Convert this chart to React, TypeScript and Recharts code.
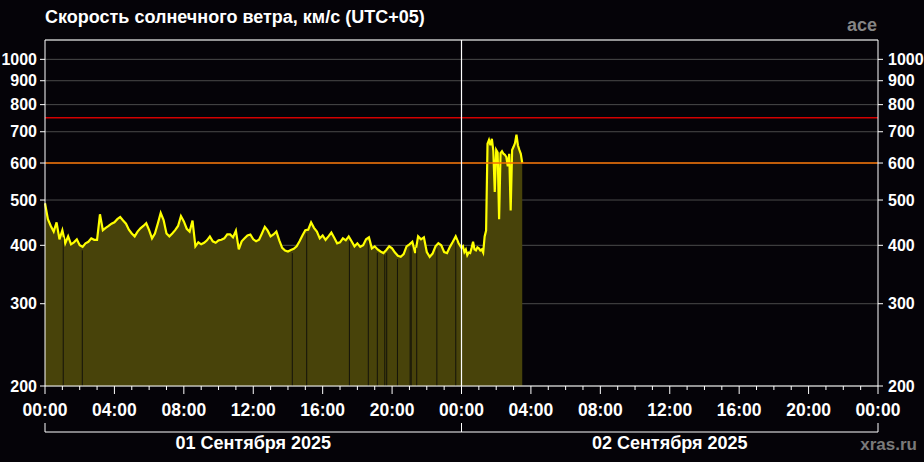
import React from 'react';
import {
  ComposedChart,
  Area,
  XAxis,
  YAxis,
  CartesianGrid,
  ReferenceLine,
} from 'recharts';

// скорость, км/с, шаг 10 минут, 01.09.2025 00:00 - 23:50
const day1Speed = [
  492, 455, 440, 428, 448, 412,
  431, 404, 418, 402, 406, 412,
  400, 397, 404, 407, 414, 411,
  411, 466, 431, 436, 440, 445,
  448, 455, 460, 452, 445, 432,
  424, 418, 428, 435, 440, 446,
  431, 414, 424, 445, 469, 453,
  424, 418, 424, 431, 440, 462,
  450, 434, 428, 452, 398, 406,
  402, 405, 410, 418, 408, 405,
  410, 411, 414, 422, 422, 416,
  430, 392, 408, 414, 420, 422,
  412, 408, 411, 424, 438, 430,
  418, 422, 428, 410, 395, 390,
  388, 391, 393, 398, 408, 420,
  431, 432, 448, 436, 428, 414,
  420, 411, 418, 426, 415, 404,
  406, 414, 410, 418, 408, 398,
  404, 397, 400, 412, 416, 394,
  398, 392, 388, 385, 391, 398,
  394, 386, 380, 378, 383, 398,
  402, 407, 385, 418, 412, 416,
  387, 378, 384, 398, 404, 400,
  387, 385, 397, 407, 418, 404,
];

// шаг 5 минут, 02.09.2025 00:00 - 03:30
const day2Speed = [
  395, 398, 387, 392, 381, 386, 385, 395, 407, 392, 390, 396,
  394, 390, 392, 386, 418, 430, 660, 672, 655, 676, 638, 520,
  640, 632, 455, 630, 636, 628, 625, 618, 590, 628, 475, 640,
  650, 662, 690, 655, 640, 628, 600,
];

// пропуски данных, часы от 01.09 00:00
const gapHours = [
  1.05, 2.15, 14.25, 15.08, 17.54, 18.63, 19.15, 19.58, 19.69, 20.31,
  21.04, 21.1, 21.42, 22.58, 23.67,
];

const yTicks = [200, 300, 400, 500, 600, 700, 800, 900, 1000];
const hourTicks = Array.from({ length: 49 }, (_, i) => i);
const dayTicks = [0, 12, 24, 36, 48];
const dayLabels: Record<number, string> = {
  12: '01 Сентября 2025',
  36: '02 Сентября 2025',
};
const warnLevel = 600;
const alertLevel = 750;

const data = [
  ...day1Speed.map((v, i) => ({ t: i / 6, v })),
  ...day2Speed.map((v, i) => ({ t: 24 + i / 12, v })),
];

function valueAt(t: number) {
  for (let i = 1; i < data.length; i++) {
    if (data[i].t >= t) {
      const a = data[i - 1];
      const b = data[i];
      return a.v + ((b.v - a.v) * (t - a.t)) / (b.t - a.t);
    }
  }
  return data[data.length - 1].v;
}

const FONT = '"Liberation Sans", Arial, sans-serif';
const BG = '#050308';
const HOURS = 0;
const DAYS = 1;

function HourTick(props: any) {
  const { x, y, payload } = props;
  const h = payload.value as number;
  const major = h % 4 === 0;
  const hh = String(h % 24).padStart(2, '0');
  return (
    <g>
      <line x1={x} x2={x} y1={y} y2={y + (major ? 8 : 4)} stroke="#fff" strokeWidth={1} />
      {major && (
        <text
          x={x}
          y={y + 30}
          textAnchor="middle"
          fill="#fff"
          fontSize={17.5}
          fontWeight="bold"
          fontFamily={FONT}
        >
          {hh}:00
        </text>
      )}
    </g>
  );
}

function DayTick(props: any) {
  const { x, y, payload } = props;
  const label = dayLabels[payload.value];
  if (label) {
    return (
      <text
        x={x}
        y={y + 17}
        textAnchor="middle"
        fill="#fff"
        fontSize={18}
        fontWeight="bold"
        fontFamily={FONT}
      >
        {label}
      </text>
    );
  }
  return <line x1={x} x2={x} y1={y - 9} y2={y} stroke="#fff" strokeWidth={1} />;
}

const yTickStyle = { fill: '#fff', fontSize: 16, fontWeight: 'bold', fontFamily: FONT };

export default function App() {
  return (
    <div
      style={{
        position: 'absolute',
        left: 0,
        top: 0,
        width: 924,
        height: 462,
        background: BG,
      }}
    >
      <ComposedChart
        width={924}
        height={462}
        data={data}
        margin={{ top: 40, right: 0, bottom: 0, left: 0 }}
      >
        <CartesianGrid stroke="#4b4b4b" vertical={false} yAxisId="left" xAxisId={HOURS} />
        <XAxis
          xAxisId={HOURS}
          dataKey="t"
          type="number"
          domain={[0, 48]}
          ticks={hourTicks}
          interval={0}
          height={46}
          axisLine={{ stroke: '#fff' }}
          tickLine={false}
          tickSize={0}
          tickMargin={0}
          tick={<HourTick />}
        />
        <XAxis
          xAxisId={DAYS}
          dataKey="t"
          type="number"
          domain={[0, 48]}
          ticks={dayTicks}
          interval={0}
          height={30}
          axisLine={{ stroke: '#fff' }}
          tickLine={false}
          tickSize={0}
          tickMargin={0}
          tick={<DayTick />}
        />
        <YAxis
          yAxisId="left"
          scale="log"
          domain={[200, 1100]}
          ticks={yTicks}
          interval={0}
          allowDataOverflow
          width={45}
          axisLine={{ stroke: '#fff' }}
          tickLine={{ stroke: '#fff' }}
          tickSize={5}
          tickMargin={3}
          tick={yTickStyle}
        />
        <YAxis
          yAxisId="right"
          orientation="right"
          scale="log"
          domain={[200, 1100]}
          ticks={yTicks}
          interval={0}
          allowDataOverflow
          width={46}
          axisLine={{ stroke: '#fff' }}
          tickLine={{ stroke: '#fff' }}
          tickSize={5}
          tickMargin={5}
          tick={yTickStyle}
        />
        <Area
          xAxisId={HOURS}
          yAxisId="left"
          type="linear"
          dataKey="v"
          stroke="#ffff00"
          strokeWidth={2.2}
          strokeLinejoin="miter"
          fill="#48430a"
          fillOpacity={1}
          baseValue={200}
          dot={false}
          activeDot={false}
          isAnimationActive={false}
        />
        {gapHours.map((g) => (
          <ReferenceLine
            key={g}
            xAxisId={HOURS}
            yAxisId="left"
            segment={[
              { x: g, y: 200 },
              { x: g, y: valueAt(g) - 7 },
            ]}
            stroke="#14130a"
            strokeWidth={1}
          />
        ))}
        <ReferenceLine xAxisId={HOURS} yAxisId="left" y={alertLevel} stroke="#d40000" strokeWidth={1.5} />
        <ReferenceLine xAxisId={HOURS} yAxisId="left" y={warnLevel} stroke="#f57000" strokeWidth={1.5} />
        <ReferenceLine xAxisId={HOURS} yAxisId="left" x={24} stroke="#fff" strokeWidth={1.2} />
        <ReferenceLine xAxisId={HOURS} yAxisId="left" y={1100} stroke="#fff" strokeWidth={1} />
      </ComposedChart>
      <svg
        width={924}
        height={462}
        style={{ position: 'absolute', left: 0, top: 0, pointerEvents: 'none' }}
      >
        <text x={45} y={23} fill="#fff" fontSize={18} fontWeight="bold" fontFamily={FONT}>
          Скорость солнечного ветра, км/с (UTC+05)
        </text>
        <text x={877} y={31} textAnchor="end" fill="#858585" fontSize={18} fontWeight="bold" fontFamily={FONT}>
          ace
        </text>
        <text x={917} y={450} textAnchor="end" fill="#7a7a7a" fontSize={17} fontWeight="bold" fontFamily={FONT}>
          xras.ru
        </text>
      </svg>
    </div>
  );
}
